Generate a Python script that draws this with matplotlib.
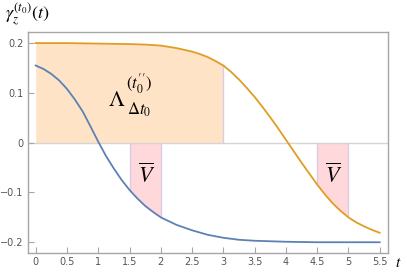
import numpy as np
import matplotlib
matplotlib.use("Agg")
import matplotlib.pyplot as plt

plt.rcParams['mathtext.fontset'] = 'stix'

t_o = [0, 0.5, 1.0, 1.5, 1.75, 2.0, 2.25, 2.5, 2.625, 2.75, 2.875, 3.0, 3.125,
       3.25, 3.375, 3.5, 3.625, 3.75, 3.875, 4.0, 4.125, 4.25, 4.375, 4.5,
       4.625, 4.75, 4.875, 5.0, 5.125, 5.25, 5.375, 5.5]
orange = [0.200, 0.200, 0.199, 0.198, 0.197, 0.195, 0.190, 0.183, 0.178, 0.172,
          0.164, 0.155, 0.142, 0.127, 0.110, 0.092, 0.072, 0.051, 0.029, 0.006,
          -0.017, -0.040, -0.062, -0.084, -0.104, -0.122, -0.137, -0.150,
          -0.160, -0.168, -0.175, -0.181]
t_b = [0, 0.125, 0.25, 0.375, 0.5, 0.625, 0.75, 0.875, 1.0, 1.125, 1.25, 1.375,
       1.5, 1.625, 1.75, 1.875, 2.0, 2.25, 2.5, 2.75, 3.0, 3.25, 3.5, 3.75,
       4.0, 4.5, 5.0, 5.5]
blue = [0.155, 0.148, 0.138, 0.125, 0.108, 0.087, 0.063, 0.033, 0.002, -0.027,
        -0.052, -0.075, -0.095, -0.112, -0.127, -0.139, -0.150, -0.165, -0.176,
        -0.185, -0.191, -0.195, -0.197, -0.198, -0.199, -0.200, -0.200, -0.200]
xticks = [0, 0.5, 1, 1.5, 2, 2.5, 3, 3.5, 4, 4.5, 5, 5.5]
xticklabels = ["0", "0.5", "1", "1.5", "2", "2.5", "3", "3.5", "4", "4.5", "5", "5.5"]
yticks = [-0.2, -0.1, 0, 0.1, 0.2]
yticklabels = ["\u22120.2", "\u22120.1", "0", "0.1", "0.2"]

TO = np.array(t_o)
O = np.array(orange)
TB = np.array(t_b)
B = np.array(blue)

fig = plt.figure(figsize=(4.07, 2.74), dpi=100)
ax = fig.add_axes([0.0688, 0.0777, 0.884, 0.805])

c_orange = '#E19C24'
c_blue = '#5E81B5'
edge = '#D9CCE3'

m = (TO >= 0) & (TO <= 3)
ax.fill_between(TO[m], 0, O[m], color='#FFE3C6', lw=0)
ax.plot([3, 3], [0, O[TO == 3][0]], color=edge, lw=1)
m = (TB >= 1.5) & (TB <= 2)
ax.fill_between(TB[m], 0, B[m], color='#FFD8DB', lw=0)
for x in (1.5, 2):
    ax.plot([x, x], [0, B[TB == x][0]], color=edge, lw=1)
m = (TO >= 4.5) & (TO <= 5)
ax.fill_between(TO[m], 0, O[m], color='#FFD8DB', lw=0)
for x in (4.5, 5):
    ax.plot([x, x], [0, O[TO == x][0]], color=edge, lw=1)

ax.axhline(0, color='#D5D5D5', lw=1, zorder=1)
ax.plot(TB, B, color=c_blue, lw=1.3, zorder=3)
ax.plot(TO, O, color=c_orange, lw=1.3, zorder=3)

ax.set_xlim(-0.123, 5.63)
ax.set_ylim(-0.221, 0.222)
ax.set_xticks(xticks)
ax.set_xticklabels(xticklabels)
ax.set_yticks(yticks)
ax.set_yticklabels(yticklabels)
for s in ax.spines.values():
    s.set_color('#A6A6A6')
    s.set_linewidth(1)
ax.tick_params(direction='in', length=4, width=0.8, color='#A6A6A6',
               labelsize=7, labelcolor='#555555', pad=3)

# Lambda label built from three pieces (main, subscript, superscript)
ax.text(1.155, 0.0746, r"$\Lambda$", fontsize=16, ha='left', va='baseline', zorder=5)
ax.text(1.458, 0.056, r"$\Delta t_0$", fontsize=12, ha='left', va='baseline', zorder=5)
ax.text(1.44, 0.108, r"$(t^{\prime\prime}_0)$", fontsize=12, ha='left', va='baseline', zorder=5)

ax.text(1.78, -0.065, r'$\overline{V}$', fontsize=16, ha='center', va='center', zorder=5)
ax.text(4.77, -0.065, r'$\overline{V}$', fontsize=16, ha='center', va='center', zorder=5)

fig.text(0.012, 0.995, r'$\gamma_z^{(t_0)}(t)$', fontsize=13, ha='left', va='top')
fig.text(0.978, 0.042, r'$t$', fontsize=11, ha='center', va='center')

fig.savefig('out.png', dpi=100)
